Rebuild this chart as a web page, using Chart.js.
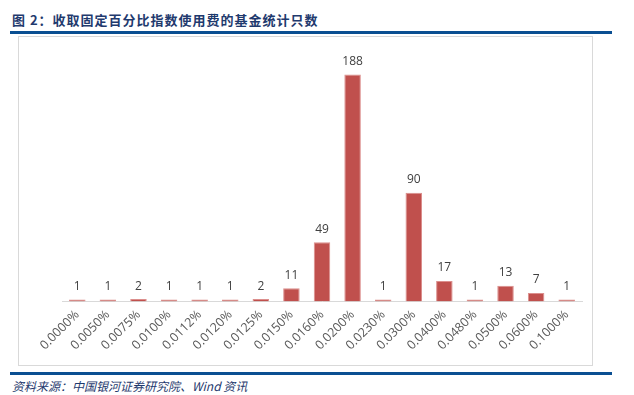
<!DOCTYPE html>
<html>
<head>
<meta charset="utf-8">
<script src="https://cdn.jsdelivr.net/npm/chart.js@4"></script>
<style>
  body { margin: 0; background: #fff; width: 634px; height: 395px; position: relative; overflow: hidden; font-family: "Noto Sans CJK SC", sans-serif; }
  #title { position: absolute; left: 12px; top: 10px; font-size: 13px; font-weight: bold; color: #1f3a6e; letter-spacing: 1px; }
  #topline { position: absolute; left: 10px; top: 31px; width: 602px; height: 3px; background: #0a4f92; }
  #box { position: absolute; left: 18px; top: 36px; width: 573px; height: 328px; border: 1px solid #d9d9d9; }
  #botline { position: absolute; left: 10px; top: 372px; width: 602px; height: 3px; background: #0a4f92; }
  #source { position: absolute; left: 12px; top: 377px; font-size: 12px; font-style: italic; color: #1f3a6e; }
</style>
</head>
<body>
<div id="title">图 2：收取固定百分比指数使用费的基金统计只数</div>
<div id="topline"></div>
<div id="box"><canvas id="mycanvas"></canvas></div>
<div id="botline"></div>
<div id="source">资料来源：中国银河证券研究院、Wind 资讯</div>
<script>
var rates = ["0.0000%", "0.0050%", "0.0075%", "0.0100%", "0.0112%", "0.0120%", "0.0125%", "0.0150%", "0.0160%",
             "0.0200%", "0.0230%", "0.0300%", "0.0400%", "0.0480%", "0.0500%", "0.0600%", "0.1000%"];
var fundCount = [1, 1, 2, 1, 1, 1, 2, 11, 49, 188, 1, 90, 17, 1, 13, 7, 1];

// labels above each bar
var barLabels = {
  id: 'barLabels',
  afterDatasetsDraw: function(chart) {
    var ctx = chart.ctx;
    var meta = chart.getDatasetMeta(0);
    ctx.save();
    ctx.font = '12px "Open Sans", sans-serif';
    ctx.fillStyle = '#404040';
    ctx.textAlign = 'center';
    ctx.textBaseline = 'bottom';
    meta.data.forEach(function(bar, i) {
      ctx.fillText(fundCount[i], bar.x, bar.y - 7);
    });
    ctx.restore();
  }
};

var canvas = document.getElementById('mycanvas');
canvas.width = 573;
canvas.height = 328;

var chart = new Chart(canvas, {
  type: 'bar',
  data: {
    labels: rates,
    datasets: [{
      data: fundCount,
      backgroundColor: '#c0504d',
      borderColor: '#dc8f8d',
      borderWidth: 1,
      minBarLength: 2,
      categoryPercentage: 1,
      barPercentage: 0.54
    }]
  },
  options: {
    responsive: false,
    animation: false,
    layout: { padding: { left: 43, right: 10, top: 23, bottom: 6 } },
    plugins: { legend: { display: false }, tooltip: { enabled: false } },
    scales: {
      y: { display: false, min: 0, max: 200 },
      x: {
        grid: { display: false, drawTicks: false },
        border: { color: '#d9d9d9', width: 1 },
        ticks: {
          minRotation: 45, maxRotation: 45, autoSkip: false,
          color: '#595959', padding: 6,
          font: { family: '"Open Sans", sans-serif', size: 12.5 }
        }
      }
    }
  },
  plugins: [barLabels]
});
</script>
</body>
</html>
